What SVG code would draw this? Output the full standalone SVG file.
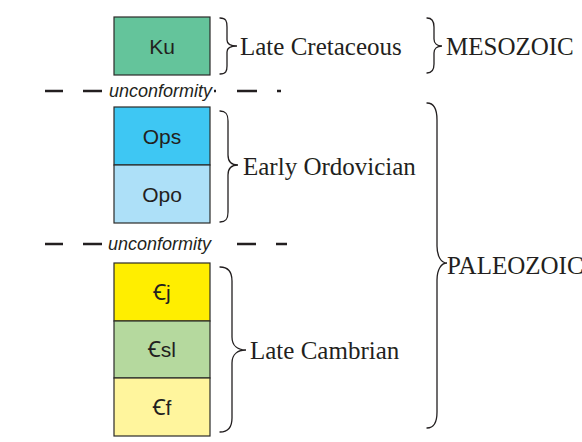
<svg xmlns="http://www.w3.org/2000/svg" width="582" height="442" viewBox="0 0 582 442">
  <style>
    .unit { stroke: #2b2a29; stroke-width: 1.2; }
    .sym { font-family: "Liberation Sans", "Noto Sans", "DejaVu Sans", sans-serif; font-size: 21px; fill: #231f20; text-anchor: middle; }
    .age { font-family: "Liberation Serif", "DejaVu Serif", serif; font-size: 25px; fill: #231f20; }
    .brace { fill: none; stroke: #231f20; stroke-width: 1.3; stroke-linecap: round; }
    .gap { stroke: #231f20; stroke-width: 2.6; }
    .gap-label { font-family: "Liberation Sans", "DejaVu Sans", sans-serif; font-style: italic; font-size: 18px; fill: #231f20; }
  </style>
  <rect width="582" height="442" fill="#ffffff"/>

  <!-- rock units -->
  <g id="Ku">
    <rect class="unit" x="114" y="17" width="96" height="58" fill="#64c49b"/>
    <text class="sym" x="162" y="53.5">Ku</text>
  </g>
  <g id="Ops">
    <rect class="unit" x="114" y="107" width="96" height="58" fill="#3ec7f3"/>
    <text class="sym" x="162" y="143.5">Ops</text>
  </g>
  <g id="Opo">
    <rect class="unit" x="114" y="165" width="96" height="58" fill="#ade0f8"/>
    <text class="sym" x="162" y="201.5">Opo</text>
  </g>
  <g id="Cj">
    <rect class="unit" x="114" y="263" width="96" height="58" fill="#ffee00"/>
    <text class="sym" x="162" y="299.5">Ꞓj</text>
  </g>
  <g id="Csl">
    <rect class="unit" x="114" y="321" width="96" height="57" fill="#b5d99e"/>
    <text class="sym" x="162" y="357">Ꞓsl</text>
  </g>
  <g id="Cf">
    <rect class="unit" x="114" y="378" width="96" height="58" fill="#fff59d"/>
    <text class="sym" x="162" y="414.5">Ꞓf</text>
  </g>

  <!-- unconformities -->
  <g id="unconformity-upper">
    <path class="gap" d="M45 91H63M83 91H102M214 91H216M237 91H257M277 91H281"/>
    <text class="gap-label" x="109" y="97">unconformity</text>
  </g>
  <g id="unconformity-lower">
    <path class="gap" d="M45 244H63M83 244H102M237 244H256M276 244H287"/>
    <text class="gap-label" x="108" y="250">unconformity</text>
  </g>

  <!-- braces grouping units into ages and eras -->
  <g id="braces">
    <path class="brace" d="M220 18C226 18 227 21 227 27V40C227 44 230 46 237 46C230 46 227 48 227 52V66C227 71 226 74 220 74"/>
    <path class="brace" d="M220 111C226 111 228 114 228 121V155C228 162 231 165 238 165C231 165 228 168 228 175V212C228 219 226 222 220 222"/>
    <path class="brace" d="M220 267C228 267 232 271 232 281V337C232 346 238 350 246 350C238 350 232 354 232 363V418C232 428 228 432 220 432"/>
    <path class="brace" d="M427 18C432 18 434 21 434 27V39C434 43 437 46 442 46C437 46 434 49 434 53V64C434 70 432 73 427 73"/>
    <path class="brace" d="M427 103C433 103 437 108 437 120V246C437 256 441 263 447 263C441 263 437 270 437 280V412C437 423 433 428 427 428"/>
  </g>

  <!-- age and era labels; the era name on the right runs past the edge -->
  <g id="labels">
    <text class="age" x="240" y="55">Late Cretaceous</text>
    <text class="age" x="243" y="175">Early Ordovician</text>
    <text class="age" x="250" y="359">Late Cambrian</text>
    <text class="age" x="446" y="55">MESOZOIC</text>
    <text class="age" x="447" y="274">PALEOZOIC</text>
  </g>
</svg>
